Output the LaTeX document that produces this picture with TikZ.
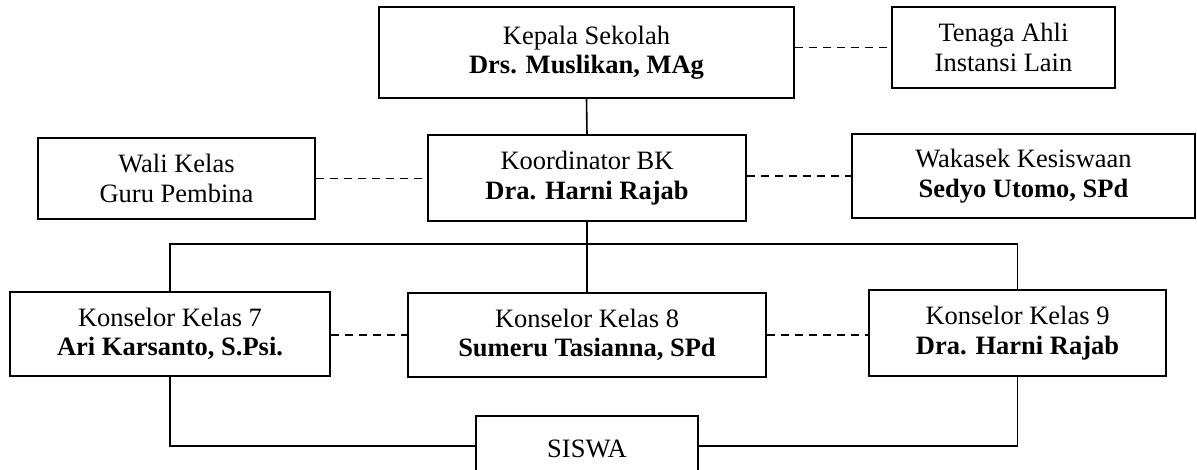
\documentclass[tikz,border=0pt]{standalone}
\usepackage{fontspec}
\setmainfont{Liberation Serif}
\begin{document}
\begin{tikzpicture}[x=1pt,y=-1pt,
  box/.style={draw, line width=1.6pt, inner sep=0pt, align=center, font=\fontsize{26.5}{29.5}\selectfont},
  solidline/.style={line width=1.6pt},
  dashline/.style={line width=1.6pt, dash pattern=on 8pt off 6pt}]
\useasboundingbox (0,0) rectangle (1197,470);
\node[box, minimum width=415pt, minimum height=91pt] (kepala) at (586.5,52.5) {Kepala Sekolah\\\textbf{Drs. Muslikan, MAg}};
\node[box, minimum width=223pt, minimum height=81pt] (tenaga) at (1003.5,47.5) {Tenaga Ahli\\Instansi Lain};
\node[box, minimum width=277pt, minimum height=81pt] (wali) at (176.5,178.5) {Wali Kelas\\Guru Pembina};
\node[box, minimum width=318pt, minimum height=86pt] (koord) at (587,178) {Koordinator BK\\\textbf{Dra. Harni Rajab}};
\node[box, minimum width=343pt, minimum height=84pt] (wakasek) at (1023.5,176) {Wakasek Kesiswaan\\\textbf{Sedyo Utomo, SPd}};
\node[box, minimum width=320pt, minimum height=84pt] (k7) at (170,334) {Konselor Kelas 7\\\textbf{Ari Karsanto, S.Psi.}};
\node[box, minimum width=358pt, minimum height=84pt] (k8) at (587,335) {Konselor Kelas 8\\\textbf{Sumeru Tasianna, SPd}};
\node[box, minimum width=297pt, minimum height=86pt] (k9) at (1017.5,333) {Konselor Kelas 9\\\textbf{Dra. Harni Rajab}};
\node[box, minimum width=222pt, minimum height=65pt] (siswa) at (587,448.5) {SISWA};

\coordinate (busL) at (170,244);
\coordinate (busR) at (1017.5,244);
\coordinate (busM) at (587,244);
\coordinate (lowL) at (170,446);
\coordinate (lowR) at (1017.5,446);

\draw[solidline] (kepala.south) -- (koord.north);
\draw[dashline] (kepala.east |- tenaga.west) -- (tenaga.west);
\draw[dashline] (wali.east) -- (wali.east -| koord.west);
\draw[dashline] (koord.east |- wakasek.west) -- (wakasek.west);
\draw[solidline] (koord.south) -- (busM);
\draw[solidline] (k7.north) -- (busL) -- (busR) -- (k9.north);
\draw[solidline] (busM) -- (k8.north);
\draw[dashline] (k7.east |- k8.west) -- (k8.west);
\draw[dashline] (k8.east) -- (k8.east -| k9.west);
\draw[solidline] (k7.south) -- (lowL) -- (lowL -| siswa.west);
\draw[solidline] (k9.south) -- (lowR) -- (lowR -| siswa.east);
\end{tikzpicture}
\end{document}
